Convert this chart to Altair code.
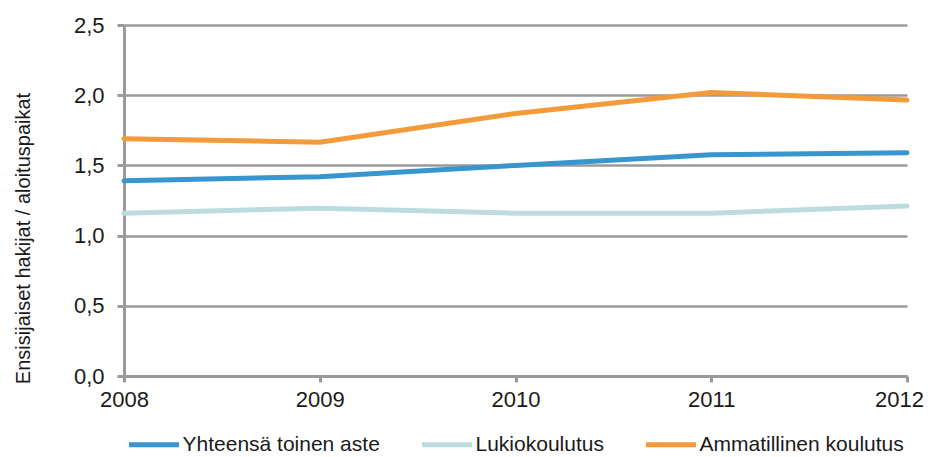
import altair as alt
import pandas as pd

years = [2008, 2009, 2010, 2011, 2012]
series_names = ["Yhteensä toinen aste", "Lukiokoulutus", "Ammatillinen koulutus"]
yhteensa = [1.39, 1.42, 1.50, 1.575, 1.59]
lukio = [1.16, 1.195, 1.16, 1.16, 1.21]
ammatillinen = [1.69, 1.665, 1.87, 2.02, 1.965]
colors = ["#3796cd", "#bbdbde", "#f39b3a"]
y_ticks = [0.0, 0.5, 1.0, 1.5, 2.0, 2.5]

rows = []
for name, vals in zip(series_names, [yhteensa, lukio, ammatillinen]):
    for yr, v in zip(years, vals):
        rows.append({"Vuosi": yr, "Arvo": v, "Sarja": name})
df = pd.DataFrame(rows)

FONT = "Liberation Sans"
GRAY = "#9a9a9a"

chart = alt.Chart(df).mark_line(strokeWidth=5, strokeCap="round", strokeJoin="round").encode(
    x=alt.X("Vuosi:Q",
            scale=alt.Scale(domain=[2008, 2012], nice=False, zero=False),
            axis=alt.Axis(values=years, format="d", title=None, grid=False,
                          domainColor=GRAY, domainWidth=3, tickColor=GRAY, tickWidth=3,
                          tickSize=6, labelPadding=7, labelFontSize=22, labelFont=FONT,
                          labelColor="#1a1a1a", labelFlush=False,
                          labelOffset={"condition": {"test": "datum.value == 2012", "value": -8},
                                       "value": 0})),
    y=alt.Y("Arvo:Q",
            scale=alt.Scale(domain=[0, 2.5], nice=False),
            axis=alt.Axis(values=y_ticks,
                          labelExpr="replace(format(datum.value, '.1f'), '.', ',')",
                          title="Ensisijaiset hakijat / aloituspaikat",
                          titleFont=FONT, titleFontSize=20, titleFontWeight="normal",
                          titleColor="#1a1a1a", titleAngle=270, titleX=-111, titleY=213,
                          titleAlign="center", titleBaseline="top",
                          grid=True, gridColor=GRAY, gridWidth=2.5,
                          domainColor=GRAY, domainWidth=3, tickColor=GRAY, tickWidth=3,
                          tickSize=7, labelPadding=13, labelFontSize=22, labelFont=FONT,
                          labelColor="#1a1a1a")),
    color=alt.Color("Sarja:N",
                    scale=alt.Scale(domain=series_names, range=colors),
                    sort=series_names,
                    legend=alt.Legend(title=None, orient="none", legendX=2.5, legendY=392,
                                      direction="horizontal", symbolType="stroke",
                                      symbolStrokeWidth=5, symbolSize=2500,
                                      labelFont=FONT, labelFontSize=21, labelColor="#1a1a1a",
                                      labelOffset=1, columnPadding=31, symbolOffset=0,
                                      labelLimit=400)),
).properties(
    width=783, height=351,
    autosize=alt.AutoSizeParams(type="none"),
    padding={"left": 116, "top": 17, "right": 17, "bottom": 81},
).configure_view(stroke=None)

chart.save("out.html", embed_options={"renderer": "svg", "actions": False})
